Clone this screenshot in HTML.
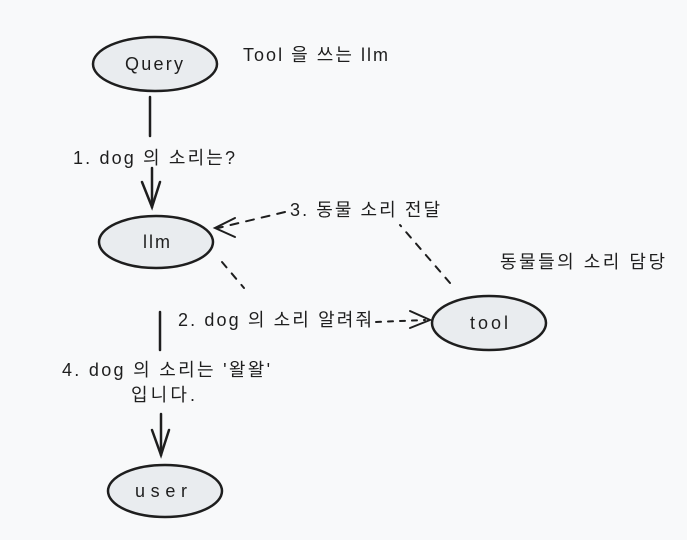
<!DOCTYPE html>
<html><head><meta charset="utf-8"><style>
html,body{margin:0;padding:0;background:#f8f9fa;}
svg{display:block}
text{font-family:"Liberation Sans","Noto Sans CJK KR",sans-serif;font-size:18px;fill:#1e1e1e;}
</style></head><body>
<svg width="687" height="540" viewBox="0 0 687 540">
<g fill="#e9ecef" stroke="#1e1e1e" stroke-width="2.5">
<ellipse cx="155" cy="64" rx="62" ry="27"/>
<ellipse cx="156" cy="242" rx="57" ry="26"/>
<ellipse cx="489" cy="323" rx="57" ry="27"/>
<ellipse cx="165" cy="491" rx="57" ry="26"/>
</g>
<text x="125" y="70" textLength="58" lengthAdjust="spacing">Query</text>
<text x="143" y="248" textLength="27" lengthAdjust="spacing">llm</text>
<text x="470" y="329" textLength="38" lengthAdjust="spacing">tool</text>
<text x="135" y="497" textLength="52" lengthAdjust="spacing">user</text>
<text x="243" y="61" textLength="145" lengthAdjust="spacing">Tool 을 쓰는 llm</text>
<text x="500" y="268" textLength="165" lengthAdjust="spacing">동물들의 소리 담당</text>
<g stroke="#1e1e1e" stroke-width="2.5" fill="none" stroke-linecap="round">
<line x1="150" y1="97" x2="150" y2="136"/>
<line x1="152" y1="168" x2="152" y2="207"/>
<path d="M142 182 L152 207 L160 182"/>
<line x1="160" y1="312" x2="160" y2="350"/>
<line x1="161" y1="414" x2="161" y2="455"/>
<path d="M152 430 L161 455 L169 430"/>
</g>
<g stroke="#1e1e1e" stroke-width="2" fill="none" stroke-linecap="round">
<path d="M222 262 L244 288" stroke-dasharray="7 8"/>
<path d="M376 322 L425 320" stroke-dasharray="5 7"/>
<path d="M410 311 L430 320 L410 328"/>
<path d="M450 283 L400 225" stroke-dasharray="7 8"/>
<path d="M285 212 L218 228" stroke-dasharray="8 8"/>
<path d="M235 218 L215 228 L235 237"/>
</g>
<text x="73" y="164" textLength="162" lengthAdjust="spacing">1. dog 의 소리는?</text>
<text x="290" y="216" textLength="150" lengthAdjust="spacing">3. 동물 소리 전달</text>
<text x="178" y="326" textLength="194" lengthAdjust="spacing">2. dog 의 소리 알려줘</text>
<text x="62" y="376" textLength="208" lengthAdjust="spacing">4. dog 의 소리는 '왈왈'</text>
<text x="131" y="401" textLength="64" lengthAdjust="spacing">입니다.</text>
</svg>
</body></html>
